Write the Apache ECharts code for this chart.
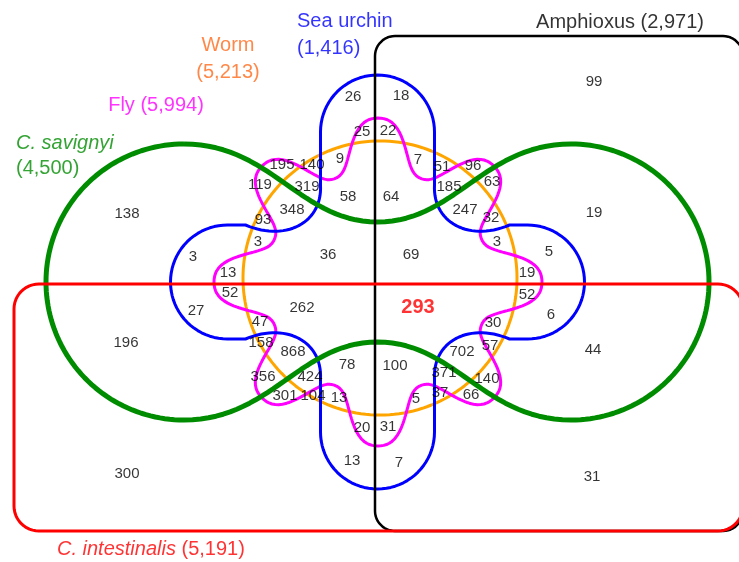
<!DOCTYPE html>
<html>
<head>
<meta charset="utf-8">
<script src="https://cdn.jsdelivr.net/npm/echarts@6/dist/echarts.min.js"></script>
<style>
  html, body { margin: 0; padding: 0; background: #fff; }
  #chart { width: 739px; height: 562px; }
</style>
</head>
<body>
<div id="chart"></div>
<script>
// six gene sets and their sizes
const setNames = ['Amphioxus', 'Sea urchin', 'Worm', 'Fly', 'C. savignyi', 'C. intestinalis']
const setSizes = [2971, 1416, 5213, 5994, 4500, 5191]
const setColors = ['#000000', '#0000ff', '#ffa500', '#ff00ff', '#008c00', '#ff0000']
const setTextColors = ['#000000', '#0000ff', '#ff6a1a', '#ff00ff', '#008c00', '#ff0000']

// counts of each Venn region, roughly top to bottom
const regionCounts = [99, 26, 18, 25, 22, 195, 140, 9, 7, 51, 96, 119, 319, 63, 185, 58, 64, 348, 247, 32,
  138, 19, 93, 3, 3, 3, 36, 69, 5, 13, 19, 52, 52, 293, 262, 27, 6, 196, 47, 30, 158, 868, 57, 702, 44,
  78, 100, 356, 424, 371, 140, 301, 104, 13, 5, 37, 66, 20, 31, 13, 7, 300, 31]
// where each count sits (canvas units)
const regionX = [594, 353, 401, 362, 388, 282, 312, 340, 418, 442, 473, 260, 307, 492, 449, 348, 391, 292, 465, 491,
  127, 594, 263, 258, 497, 193, 328, 411, 549, 228, 527, 230, 527, 418, 302, 196, 551, 126, 260, 493, 261, 293, 490, 462, 593,
  347, 395, 263, 310, 444, 487, 285, 313, 339, 416, 440, 471, 362, 388, 352, 399, 127, 592]
const regionY = [82, 97, 96, 132, 131, 165, 165, 159, 160, 167, 166, 185, 187, 182, 187, 197, 197, 210, 210, 218,
  214, 213, 220, 242, 242, 257, 255, 255, 252, 273, 273, 293, 295, 307, 308, 311, 315, 343, 322, 323, 343, 352, 346, 352, 350,
  365, 366, 377, 377, 373, 379, 396, 396, 398, 399, 393, 395, 428, 427, 461, 463, 474, 477]
const highlightIndex = 33 // the 293 shared by all six

// set name anchors
const setLabelX = [620, 297, 228, 156, 16, 57]
const setLabelY = [22, 35, 59, 105, 156, 549]
const setLabelAlign = ['center', 'left', 'center', 'center', 'left', 'left']

// ---- outline builders ----
function arc(cx, cy, r, a0, a1, n) {
  let pts = []
  for (let i = 0; i <= n; i++) {
    let a = (a0 + (a1 - a0) * i / n) * Math.PI / 180
    pts.push([cx + r * Math.cos(a), cy - r * Math.sin(a)])
  }
  return pts
}

function roundRect(x0, y0, x1, y1, r) {
  return [].concat(
    arc(x0 + r, y0 + r, r, 180, 90, 12),
    arc(x1 - r, y0 + r, r, 90, 0, 12),
    arc(x1 - r, y1 - r, r, 0, -90, 12),
    arc(x0 + r, y1 - r, r, 270, 180, 12),
    [[x0, y0 + r]]
  )
}

function bezier(p0, p1, p2, p3, n) {
  let pts = []
  for (let i = 0; i <= n; i++) {
    let t = i / n, u = 1 - t
    pts.push([
      u * u * u * p0[0] + 3 * u * u * t * p1[0] + 3 * u * t * t * p2[0] + t * t * t * p3[0],
      u * u * u * p0[1] + 3 * u * u * t * p1[1] + 3 * u * t * t * p2[1] + t * t * t * p3[1],
    ])
  }
  return pts
}

// S-shaped join between a lobe top/bottom and the waist
function join(a, b) {
  let dx = b[0] - a[0]
  return bezier(a, [a[0] + dx * 0.45, a[1]], [b[0] - dx * 0.4, b[1]], b, 30)
}

function dumbbell(cxL, cxR, cy, r, waist) {
  let mid = (cxL + cxR) / 2
  return [].concat(
    arc(cxL, cy, r, 90, 270, 90),
    join([cxL, cy + r], [mid, cy + waist]),
    join([cxR, cy + r], [mid, cy + waist]).reverse(),
    arc(cxR, cy, r, -90, 90, 90),
    join([cxR, cy - r], [mid, cy - waist]),
    join([cxL, cy - r], [mid, cy - waist]).reverse()
  )
}

// plus-shaped outline with round caps; the inner corners pinch the side arms a little
function roundedCross(cx, cy, L, w) {
  const hv = [[75, 0], [35, -17], [-2, 2], [0, 40]] // corner curve in (side arm, upright arm) units
  let pts = []
  let d = [0, -1], m = [1, 0]
  for (let k = 0; k < 4; k++) {
    let px = cx + L * d[0], py = cy + L * d[1]
    for (let i = 0; i <= 40; i++) {
      let phi = -Math.PI / 2 + Math.PI * i / 40
      pts.push([px + w * (Math.cos(phi) * d[0] + Math.sin(phi) * m[0]),
        py + w * (Math.cos(phi) * d[1] + Math.sin(phi) * m[1])])
    }
    let kx = cx + w * (d[0] + m[0]), ky = cy + w * (d[1] + m[1])
    let upright = k % 2 == 0
    let H = upright ? m : d, V = upright ? d : m
    let ctrl = hv.map((p) => [kx + p[0] * H[0] + p[1] * V[0], ky + p[0] * H[1] + p[1] * V[1]])
    if (upright) ctrl.reverse()
    pts = pts.concat(bezier(ctrl[0], ctrl[1], ctrl[2], ctrl[3], 30))
    let nd = [m[0], m[1]], nm = [-d[0], -d[1]]
    d = nd
    m = nm
  }
  pts.push(pts[0])
  return pts
}

function wavyCircle(cx, cy, r, amp, lobes) {
  let pts = []
  for (let i = 0; i <= 720; i++) {
    let a = i / 2 * Math.PI / 180
    let rr = r + amp * (Math.cos(lobes * a) - 0.06 * Math.cos(3 * lobes * a)) / 0.94
    pts.push([cx + rr * Math.cos(a), cy - rr * Math.sin(a)])
  }
  return pts
}

const outlines = [
  roundRect(375, 36, 743, 531, 20),              // Amphioxus
  roundedCross(377.5, 282, 150, 57),             // Sea urchin
  arc(380, 278, 137, 0, 360, 180),               // Worm
  wavyCircle(378, 282, 138, 26, 8),              // Fly
  dumbbell(184, 571, 282, 138, 60),              // C. savignyi
  roundRect(14, 284, 743, 531, 25),              // C. intestinalis
]
const lineWidths = [2.5, 3, 3, 3, 5, 3]
const drawOrder = [2, 3, 1, 4, 0, 5]

let series = drawOrder.map((k) => ({
  name: setNames[k],
  type: 'line',
  data: outlines[k],
  showSymbol: false,
  silent: true,
  lineStyle: { color: setColors[k], width: lineWidths[k] },
}))

series.push({
  type: 'scatter',
  symbolSize: 1,
  itemStyle: { color: 'rgba(0,0,0,0)' },
  label: {
    show: true,
    position: 'inside',
    color: '#000',
    fontSize: 15,
    fontFamily: 'Liberation Sans',
    formatter: (p) => p.value[2],
  },
  data: regionCounts.map((v, i) => {
    let item = { value: [regionX[i], regionY[i], v] }
    if (i == highlightIndex) {
      item.label = { color: '#ff0000', fontWeight: 'bold', fontSize: 20 }
    }
    return item
  }),
  z: 5,
})

function setText(i) {
  let size = '(' + setSizes[i].toLocaleString('en-US') + ')'
  let name = setNames[i].indexOf('C. ') == 0 ? '{i|' + setNames[i] + '}' : setNames[i]
  if (i == 1 || i == 2 || i == 4) return name + '\n' + size
  return name + ' ' + size
}

series.push({
  type: 'scatter',
  symbolSize: 1,
  itemStyle: { color: 'rgba(0,0,0,0)' },
  data: setNames.map((n, i) => ({
    value: [setLabelX[i], setLabelY[i]],
    label: {
      show: true,
      position: 'inside',
      align: setLabelAlign[i],
      color: setTextColors[i],
      fontSize: 20,
      lineHeight: i == 4 ? 25 : 27,
      fontFamily: 'Liberation Sans',
      formatter: setText(i),
      rich: {
        i: { fontStyle: 'italic', fontSize: 20, color: setTextColors[i], fontFamily: 'Liberation Sans', lineHeight: i == 4 ? 25 : 27 },
      },
    },
  })),
  z: 5,
})

const chart = echarts.init(document.getElementById('chart'))
chart.setOption({
  animation: false,
  grid: { left: 0, right: 0, top: 0, bottom: 0 },
  xAxis: { type: 'value', min: 0, max: 739, show: false },
  yAxis: { type: 'value', min: 0, max: 562, inverse: true, show: false },
  series: series,
})
</script>
</body>
</html>
